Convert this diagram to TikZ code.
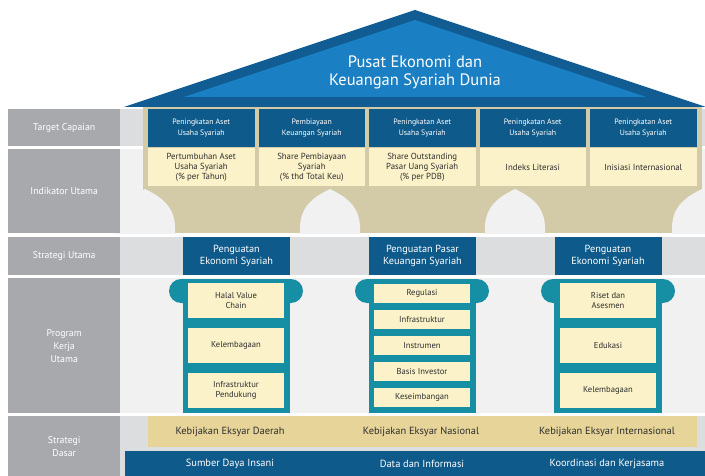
\documentclass[tikz,border=0pt]{standalone}
\usepackage{fontspec}
\setmainfont{PT Sans}
\usepackage{xcolor}
\definecolor{roofblue}{HTML}{1B7FC3}
\definecolor{roofedge}{HTML}{115C92}
\definecolor{navy}{HTML}{0E5A8A}
\definecolor{cream}{HTML}{FCF2CA}
\definecolor{khaki}{HTML}{D3CBA8}
\definecolor{sand}{HTML}{E6D498}
\definecolor{pillarteal}{HTML}{168EA4}
\definecolor{labgray}{HTML}{A7A9AC}
\definecolor{bandgray}{HTML}{DCDDDF}
\definecolor{paleback}{HTML}{F1F1F1}
\definecolor{ink}{HTML}{2E2E2E}
\usepackage{tikz}
\usetikzlibrary{positioning}

\begin{document}
\begin{tikzpicture}[x=1pt,y=-1pt,
  every node/.style={inner sep=0pt,align=center},
  rowlabel/.style={fill=labgray,text=white,minimum width=112pt,anchor=north west,font=\fontsize{9.8}{13}\selectfont},
  targetbox/.style={fill=navy,text=white,minimum width=106.5pt,minimum height=38pt,font=\fontsize{7.8}{10.5}\selectfont},
  indbox/.style={fill=cream,text=ink,minimum width=106.5pt,minimum height=38pt,font=\fontsize{8.8}{10}\selectfont},
  stratbox/.style={fill=navy,text=white,minimum width=107pt,minimum height=38pt,font=\fontsize{10.3}{12.8}\selectfont},
  progbox/.style={fill=cream,text=ink,minimum width=96pt,font=\fontsize{8.6}{10}\selectfont},
  bandtext/.style={font=\fontsize{10.4}{12}\selectfont}]
\clip (0,0) rectangle (705,476);
\fill[white] (0,0) rectangle (705,476);

%%% row backgrounds
\fill[bandgray] (120,109) rectangle (705,146);
\fill[paleback] (120,149) rectangle (705,233);
\fill[bandgray] (120,237) rectangle (705,275);
\fill[paleback] (120,278) rectangle (705,413);
\fill[bandgray] (120,416) rectangle (705,476);

%%% roof
\fill[roofedge] (124,107) -- (415,10) -- (706,107) -- cycle;
\fill[roofblue] (184,97) -- (415,20) -- (646,97) -- cycle;
\node[text=white,font=\fontsize{16.5}{18}\selectfont] (goal) at (415,72) {Pusat Ekonomi dan\\Keuangan Syariah Dunia};

%%% beam with arches
\fill[khaki] (143,107) rectangle (702,233);
\fill[paleback] (115,234) -- (115,228) .. controls (115,205) and (131,196) .. (145,189) .. controls (159,196) and (175,205) .. (175,228) -- (175,234) -- cycle;
\fill[paleback] (300,234) -- (300,228) .. controls (300,205) and (316,196) .. (330,189) .. controls (344,196) and (360,205) .. (360,228) -- (360,234) -- cycle;
\fill[paleback] (485,234) -- (485,228) .. controls (485,205) and (501,196) .. (515,189) .. controls (529,196) and (545,205) .. (545,228) -- (545,234) -- cycle;
\fill[paleback] (672,234) -- (672,228) .. controls (672,205) and (688,196) .. (702,189) .. controls (716,196) and (732,205) .. (732,228) -- (732,234) -- cycle;

%%% row labels
\node[rowlabel,minimum height=37pt] (lbltarget) at (8,109) {Target Capaian};
\node[rowlabel,minimum height=84pt] (lblindikator) at (8,149) {Indikator Utama};
\node[rowlabel,minimum height=38pt] (lblstrategi) at (8,237) {Strategi Utama};
\node[rowlabel,minimum height=135pt] (lblprogram) at (8,278) {Program\\Kerja\\Utama};
\node[rowlabel,minimum height=60pt] (lbldasar) at (8,416) {Strategi\\Dasar};

%%% target capaian
\node[targetbox] (tgtA) at (201.25,128) {Peningkatan Aset\\Usaha Syariah};
\node[targetbox] (tgtB) at (311.75,128) {Pembiayaan\\Keuangan Syariah};
\node[targetbox] (tgtC) at (422.25,128) {Peningkatan Aset\\Usaha Syariah};
\node[targetbox] (tgtD) at (532.75,128) {Peningkatan Aset\\Usaha Syariah};
\node[targetbox] (tgtE) at (643.25,128) {Peningkatan Aset\\Usaha Syariah};

%%% indikator utama
\node[indbox,below=1pt of tgtA] (indA) {Pertumbuhan Aset\\Usaha Syariah\\(\% per Tahun)};
\node[indbox,below=1pt of tgtB] (indB) {Share Pembiayaan\\Syariah\\(\% thd Total Keu)};
\node[indbox,below=1pt of tgtC] (indC) {Share Outstanding\\Pasar Uang Syariah\\(\% per PDB)};
\node[indbox,below=1pt of tgtD] (indD) {Indeks Literasi};
\node[indbox,below=1pt of tgtE] (indE) {Inisiasi Internasional};

%%% strategi utama
\node[stratbox] (stratA) at (236.5,256) {Penguatan\\Ekonomi Syariah};
\node[stratbox] (stratB) at (422.5,256) {Penguatan Pasar\\Keuangan Syariah};
\node[stratbox] (stratC) at (608,256) {Penguatan\\Ekonomi Syariah};

%%% pillars
\fill[pillarteal,rounded corners=12pt] (169,279) rectangle (303,303);
\fill[pillarteal] (183,279) rectangle (290,413);
\fill[pillarteal,rounded corners=12pt] (355,279) rectangle (489,303);
\fill[pillarteal] (369,279) rectangle (476,413);
\fill[pillarteal,rounded corners=12pt] (541,279) rectangle (675,303);
\fill[pillarteal] (554,279) rectangle (662,413);

%%% program kerja utama
\node[progbox,minimum height=34.5pt,anchor=north] (progA1) at (236,283) {Halal Value\\Chain};
\node[progbox,minimum height=34.5pt,below=10pt of progA1] (progA2) {Kelembagaan};
\node[progbox,minimum height=34.5pt,below=10pt of progA2] (progA3) {Infrastruktur\\Pendukung};

\node[progbox,minimum height=19pt,anchor=north] (progB1) at (422,284) {Regulasi};
\node[progbox,minimum height=19pt,below=6.5pt of progB1] (progB2) {Infrastruktur};
\node[progbox,minimum height=19pt,below=6.5pt of progB2] (progB3) {Instrumen};
\node[progbox,minimum height=19pt,below=6.5pt of progB3] (progB4) {Basis Investor};
\node[progbox,minimum height=19pt,below=6.5pt of progB4] (progB5) {Keseimbangan};

\node[progbox,minimum height=34.5pt,anchor=north] (progC1) at (608,283) {Riset dan\\Asesmen};
\node[progbox,minimum height=34.5pt,below=10pt of progC1] (progC2) {Edukasi};
\node[progbox,minimum height=34.5pt,below=10pt of progC2] (progC3) {Kelembagaan};

%%% strategi dasar
\fill[sand] (148,416) rectangle (697,447);
\fill[navy] (125,451) rectangle (705,476);
\node[bandtext,text=ink] (kebA) at (230,431.5) {Kebijakan Eksyar Daerah};
\node[bandtext,text=ink] (kebB) at (421,431.5) {Kebijakan Eksyar Nasional};
\node[bandtext,text=ink] (kebC) at (607,431.5) {Kebijakan Eksyar Internasional};
\node[bandtext,text=white] (dasA) at (230,463.5) {Sumber Daya Insani};
\node[bandtext,text=white] (dasB) at (422,463.5) {Data dan Informasi};
\node[bandtext,text=white] (dasC) at (607,463.5) {Koordinasi dan Kerjasama};

\end{tikzpicture}
\end{document}
